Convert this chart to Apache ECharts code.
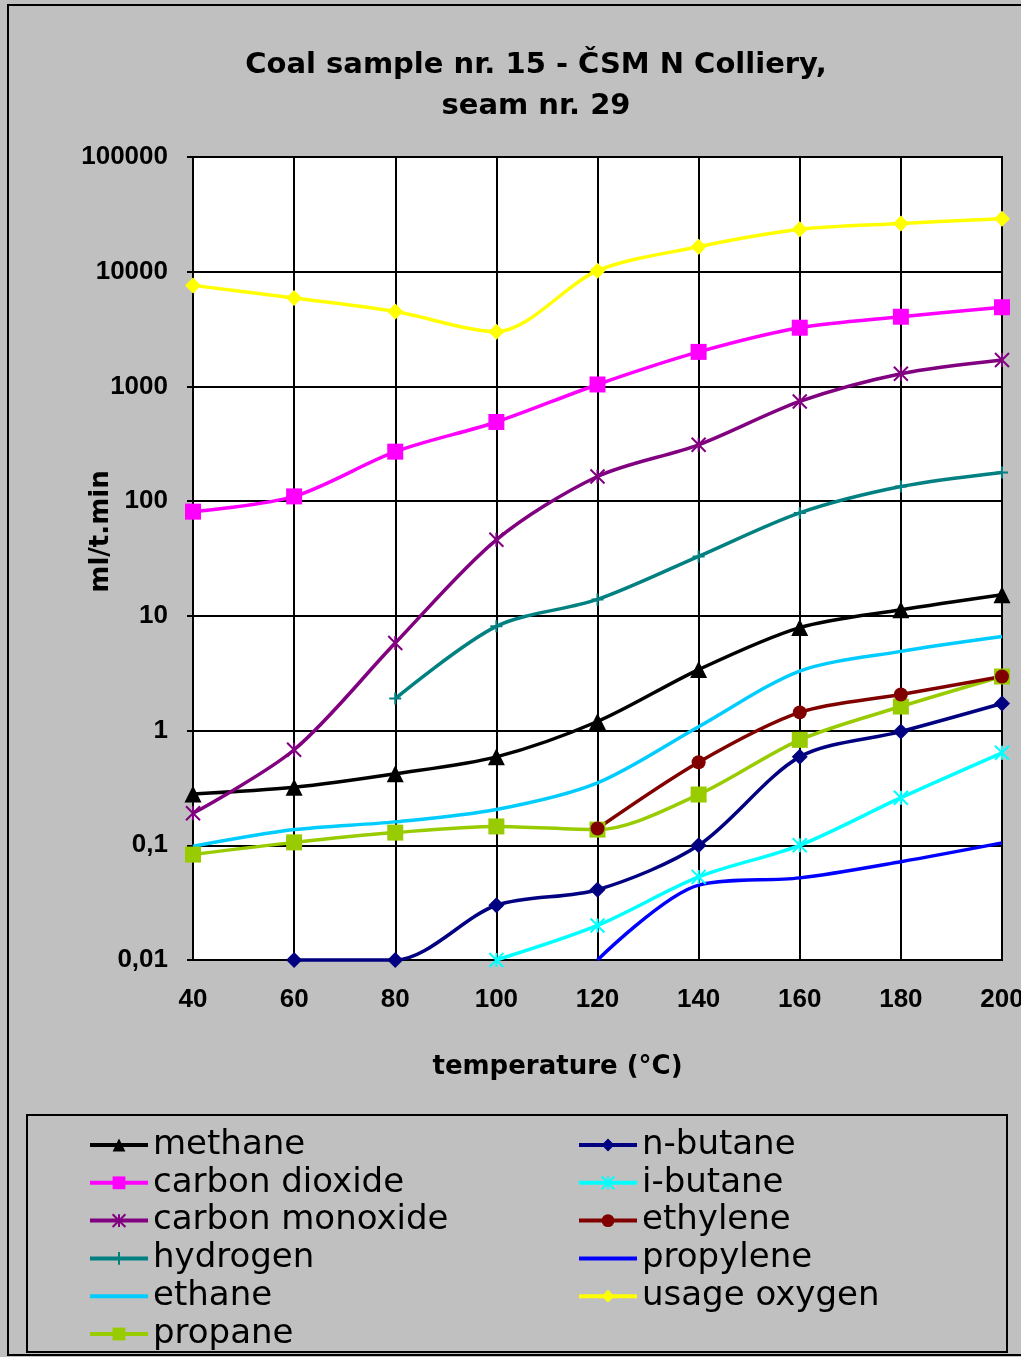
<!DOCTYPE html>
<html>
<head>
<meta charset="utf-8">
<script src="https://cdn.jsdelivr.net/npm/echarts@6/dist/echarts.min.js"></script>
<style>
  html, body { margin: 0; padding: 0; background: #c0c0c0; }
  #chart { width: 1021px; height: 1357px; }
</style>
</head>
<body>
<div id="chart"></div>
<script>
// temperatures (°C)
const temperatures = [40, 60, 80, 100, 120, 140, 160, 180, 200]

// gas release, ml/t.min (null = not measured)
const methane = [0.28, 0.32, 0.42, 0.59, 1.2, 3.4, 7.9, 11.3, 15.3]
const carbonDioxide = [81, 110, 270, 490, 1040, 2000, 3250, 4050, 4900]
const carbonMonoxide = [0.19, 0.68, 5.8, 46, 164, 310, 740, 1290, 1700]
const hydrogen = [null, null, 1.9, 8.1, 13.9, 33, 79, 134, 178]
const ethane = [0.098, 0.137, 0.16, 0.205, 0.35, 1.08, 3.3, 4.9, 6.6]
const propane = [0.083, 0.106, 0.129, 0.146, 0.137, 0.277, 0.83, 1.62, 2.96]
const nButane = [null, 0.01, 0.01, 0.03, 0.041, 0.10, 0.59, 0.98, 1.72]
const iButane = [null, null, null, 0.01, 0.02, 0.053, 0.10, 0.26, 0.64]
const ethylene = [null, null, null, null, 0.14, 0.53, 1.44, 2.06, 2.96]
const propylene = [null, null, null, null, 0.01, 0.045, 0.052, 0.072, 0.105]
const usageOxygen = [7600, 5900, 4500, 3000, 10200, 16500, 23400, 26300, 29000]

const yTicks = [0.01, 0.1, 1, 10, 100, 1000, 10000, 100000]

const FONT = '"Liberation Sans", Arial, sans-serif'
const WIDE = '"DejaVu Sans", Verdana, sans-serif'
const ASTERISK = 'path://M0,0L10,10M10,0L0,10M5,0L5,10'
const PLUS = 'path://M5,0L5,10M2,5L8,5'
const BAR = 'path://M0,0L58,0L58,4L0,4Z'

// name, values, colour, symbol, symbol size
const seriesDefs = [
  ['methane', methane, '#000000', 'triangle', 17],
  ['carbon dioxide', carbonDioxide, '#ff00ff', 'rect', 16],
  ['carbon monoxide', carbonMonoxide, '#800080', ASTERISK, 14],
  ['hydrogen', hydrogen, '#008080', PLUS, 12],
  ['ethane', ethane, '#00ccff', 'none', 0],
  ['propane', propane, '#99cc00', 'rect', 16],
  ['n-butane', nButane, '#000080', 'diamond', 16],
  ['i-butane', iButane, '#00ffff', ASTERISK, 14],
  ['ethylene', ethylene, '#800000', 'circle', 14],
  ['propylene', propylene, '#0000ff', 'none', 0],
  ['usage oxygen', usageOxygen, '#ffff00', 'diamond', 16]
]

const series = seriesDefs.map(([name, vals, color, symbol, size]) => {
  const isPath = symbol.indexOf('path://') === 0
  return {
    name: name,
    type: 'line',
    smooth: 0.3,
    clip: false,
    data: temperatures.map((t, i) => [t, vals[i]]).filter(d => d[1] != null),
    symbol: symbol,
    symbolSize: size,
    showSymbol: symbol !== 'none',
    lineStyle: { color: color, width: 3.5 },
    itemStyle: {
      color: isPath ? 'rgba(0,0,0,0)' : color,
      borderColor: color,
      borderWidth: isPath ? 2 : 0
    },
    emphasis: { disabled: true }
  }
})

function legendItems(names) {
  return names.map(n => {
    const def = seriesDefs.find(d => d[0] === n)
    return def[3] === 'none' ? { name: n, icon: BAR } : { name: n }
  })
}

const legendBase = {
  orient: 'vertical', top: 1128, itemGap: 3.8, padding: 0,
  itemWidth: 58, itemHeight: 16,
  lineStyle: { width: 4 },
  textStyle: { fontFamily: WIDE, fontSize: 34, color: '#000', padding: [0, 0, 0, 0] }
}

const chart = echarts.init(document.getElementById('chart'))
chart.setOption({
  backgroundColor: '#c0c0c0',
  animation: false,
  title: {
    text: 'Coal sample nr. 15 - ČSM N Colliery,\nseam nr. 29',
    left: 531,
    textAlign: 'center',
    top: 40,
    textStyle: { fontFamily: WIDE, fontSize: 29, fontWeight: 'bold', lineHeight: 41, color: '#000' }
  },
  graphic: [
    { type: 'rect', shape: { x: 8, y: 5, width: 1030, height: 1350 },
      style: { fill: 'none', stroke: '#000', lineWidth: 2 }, z: -1 },
    { type: 'rect', shape: { x: 27, y: 1115, width: 980, height: 237 },
      style: { fill: '#c0c0c0', stroke: '#000', lineWidth: 2 }, z: -1 }
  ],
  legend: [
    Object.assign({}, legendBase, {
      left: 88,
      data: legendItems(['methane', 'carbon dioxide', 'carbon monoxide', 'hydrogen', 'ethane', 'propane'])
    }),
    Object.assign({}, legendBase, {
      left: 577,
      data: legendItems(['n-butane', 'i-butane', 'ethylene', 'propylene', 'usage oxygen'])
    })
  ],
  grid: {
    left: 193, top: 157, width: 809, height: 803,
    outerBoundsMode: 'none',
    show: true, backgroundColor: '#ffffff', borderColor: '#000', borderWidth: 2
  },
  xAxis: {
    type: 'value',
    min: 40, max: 200, interval: 20,
    name: 'temperature (°C)',
    nameLocation: 'middle',
    nameGap: 94,
    nameMoveOverlap: false,
    nameTextStyle: { fontFamily: WIDE, fontSize: 26, fontWeight: 'bold', color: '#000', padding: [0, 80, 0, 0] },
    axisLine: { lineStyle: { color: '#000', width: 2 } },
    axisTick: { show: false },
    axisLabel: { margin: 27, fontFamily: FONT, fontSize: 26, fontWeight: 'bold', color: '#000' },
    splitLine: { lineStyle: { color: '#000', width: 2 } }
  },
  yAxis: {
    type: 'log',
    logBase: 10,
    min: yTicks[0], max: yTicks[yTicks.length - 1],
    splitNumber: yTicks.length - 1,
    name: 'ml/t.min',
    nameLocation: 'middle',
    nameGap: 79,
    nameMoveOverlap: false,
    nameTextStyle: { fontFamily: WIDE, fontSize: 26, fontWeight: 'bold', color: '#000', padding: [0, 0, 0, 54] },
    axisLine: { show: true, lineStyle: { color: '#000', width: 2 } },
    axisTick: { show: true, length: 6, inside: false, lineStyle: { color: '#000', width: 2 } },
    axisLabel: {
      margin: 25, fontFamily: FONT, fontSize: 26, fontWeight: 'bold', color: '#000',
      formatter: v => String(Number(v.toPrecision(6))).replace('.', ',')
    },
    splitLine: { lineStyle: { color: '#000', width: 2 } }
  },
  series: series
})
</script>
</body>
</html>
